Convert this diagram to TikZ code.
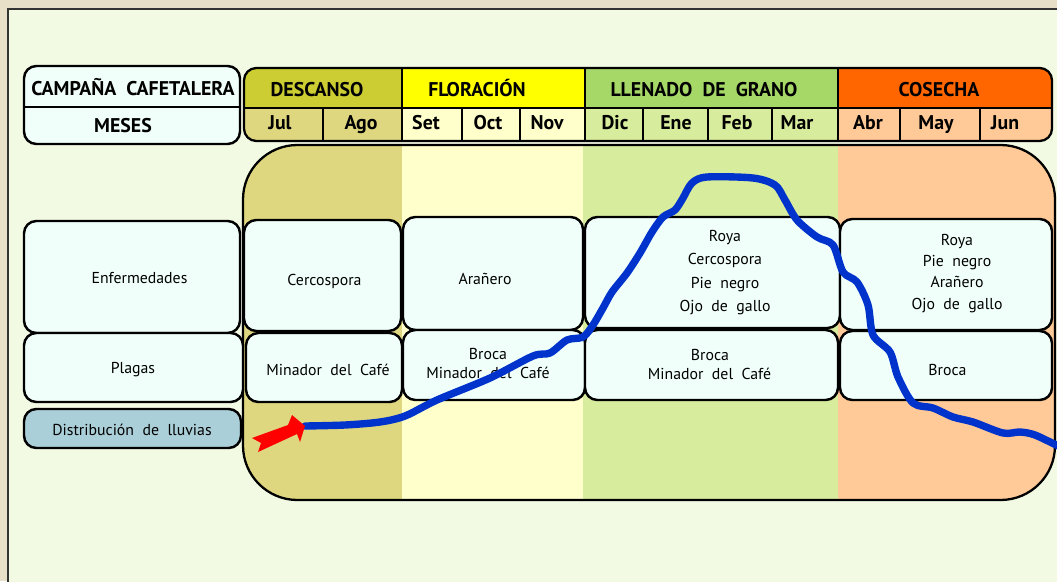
\documentclass[tikz,border=0pt]{standalone}
\usepackage{fontspec}
\setmainfont{PT Sans}
\definecolor{beige}{HTML}{E8DFC8}
\definecolor{panel}{HTML}{F3FAE4}
\definecolor{cellfill}{HTML}{F0FFFA}
\definecolor{rainlabel}{HTML}{AACFD8}
\definecolor{descdark}{HTML}{CCCC33}
\definecolor{desclight}{HTML}{DED77F}
\definecolor{flordark}{HTML}{FFFF00}
\definecolor{florlight}{HTML}{FFFFCC}
\definecolor{llendark}{HTML}{A5D866}
\definecolor{llenlight}{HTML}{D8EC9E}
\definecolor{cosedark}{HTML}{FF6600}
\definecolor{coselight}{HTML}{FFCA98}
\definecolor{rainblue}{HTML}{0033CC}
\newcommand\pix{0.02cm}

\begin{document}
\begin{tikzpicture}[x=0.02cm,y=-0.02cm]

\tikzset{cell/.style = {draw, line width=1.4pt, rounded corners=7pt, fill=cellfill, inner sep=0pt}}
\tikzset{txt/.style = {inner sep=0pt, anchor=base, font=\fontsize{9}{13}\selectfont}}
\tikzset{lines/.style = {inner sep=0pt, align=center, font=\fontsize{9}{13.3}\selectfont}}
\tikzset{head/.style = {inner sep=0pt, anchor=base, font=\bfseries\fontsize{11.3}{13}\selectfont}}
\tikzset{grid/.style = {line width=1.3pt}}
\tikzset{rain/.style = {line width=4.2pt, draw=rainblue, line join=round, line cap=round}}

\clip (0,0) rectangle (1057,581);
\fill[beige] (0,0) rectangle (1057,581);
\filldraw[fill=panel, draw=black!80, line width=1pt] (8,9) rectangle (1080,600);

%header
\node[cell, minimum width=216*\pix, minimum height=78*\pix] (campana) at (132,105) {};
\draw[grid] (24,107) -- (240,107);
\node[head] (tcampana) at (133,95) {CAMPAÑA\ \ CAFETALERA};
\node[head] (tmeses) at (123,132.5) {MESES};

\begin{scope}
\clip[rounded corners=7pt] (244,68) rectangle (1052,141);
\fill[descdark] (244,68) rectangle (402,108);
\fill[flordark] (402,68) rectangle (585,108);
\fill[llendark] (585,68) rectangle (838,108);
\fill[cosedark] (838,68) rectangle (1052,108);
\fill[desclight] (244,108) rectangle (402,141);
\fill[florlight] (402,108) rectangle (585,141);
\fill[llenlight] (585,108) rectangle (838,141);
\fill[coselight] (838,108) rectangle (1052,141);
\end{scope}
\draw[grid, rounded corners=7pt] (244,68) rectangle (1052,141);
\draw[grid] (244,108) -- (1052,108);
\foreach \x in {402,585,838} \draw[grid] (\x,68) -- (\x,108);
\foreach \x in {323,402,462,520,585,643,708,772,838,900,980} \draw[grid] (\x,108) -- (\x,141);

\node[head] (descanso) at (317,96.5) {DESCANSO};
\node[head] (floracion) at (477,96.5) {FLORACIÓN};
\node[head] (llenado) at (704,96.5) {LLENADO\ \ DE\ \ GRANO};
\node[head] (cosecha) at (939,96.5) {COSECHA};

\node[head] (jul) at (280,130) {Jul};
\node[head] (ago) at (361,130) {Ago};
\node[head] (set) at (426,130) {Set};
\node[head] (oct) at (488,130) {Oct};
\node[head] (nov) at (547,130) {Nov};
\node[head] (dic) at (615,130) {Dic};
\node[head] (ene) at (676,130) {Ene};
\node[head] (feb) at (737,130) {Feb};
\node[head] (mar) at (797,130) {Mar};
\node[head] (abr) at (868,130) {Abr};
\node[head] (may) at (936,130) {May};
\node[head] (jun) at (1005,130) {Jun};

%season band
\begin{scope}
\clip[rounded corners=31pt] (243,145) rectangle (1055,500);
\fill[desclight] (243,145) rectangle (402,500);
\fill[florlight] (402,145) rectangle (583,500);
\fill[llenlight] (583,145) rectangle (838,500);
\fill[coselight] (838,145) rectangle (1055,500);
\end{scope}
\draw[grid, rounded corners=31pt] (243,145) rectangle (1055,500);

%rows
\node[cell, minimum width=216*\pix, minimum height=112*\pix] (enf) at (132,277) {};
\node[cell, minimum width=219*\pix, minimum height=69*\pix] (pla) at (133.5,367.5) {};
\node[cell, fill=rainlabel, minimum width=217*\pix, minimum height=39*\pix] (lluvias) at (132.5,428.5) {};
\node[cell, minimum width=157*\pix, minimum height=111*\pix] (enfdesc) at (322.5,275.5) {};
\node[cell, minimum width=156*\pix, minimum height=69*\pix] (pladesc) at (324,367.5) {};
\node[cell, minimum width=180*\pix, minimum height=113*\pix] (enfflor) at (493,273.5) {};
\node[cell, minimum width=182*\pix, minimum height=70*\pix] (plaflor) at (494,365) {};
\node[cell, minimum width=255*\pix, minimum height=111*\pix] (enfllen) at (712.5,272.5) {};
\node[cell, minimum width=253*\pix, minimum height=70*\pix] (plallen) at (711.5,365) {};
\node[cell, minimum width=212*\pix, minimum height=111*\pix] (enfcose) at (946,274.5) {};
\node[cell, minimum width=212*\pix, minimum height=69*\pix] (placose) at (946,365.5) {};

%texts
\node[txt] (tenf) at (139.5,283) {Enfermedades};
\node[txt] (tpla) at (133,373) {Plagas};
\node[txt] (tlluvias) at (132,435) {Distribución\ \ de\ \ lluvias};
\node[txt] (tenfdesc) at (324.5,285) {Cercospora};
\node[txt] (tpladesc) at (328,375.5) {Minador\ \ del\ \ Café};
\node[txt] (tenfflor) at (485,284) {Arañero};
\node[txt] (tplaflor1) at (488,359) {Broca};
\node[txt] (tplaflor2) at (488,378) {Minador\ \ del\ \ Café};
\node[lines] (tenfllen) at (725,272.5) {Roya\\Cercospora\\Pie\ \ negro\\Ojo\ \ de\ \ gallo};
\node[txt] (tplallen1) at (710,360) {Broca};
\node[txt] (tplallen2) at (709.5,379) {Minador\ \ del\ \ Café};
\node[lines, font=\fontsize{9}{12}\selectfont] (tenfcose) at (957,273.5) {Roya\\Pie\ \ negro\\Arañero\\Ojo\ \ de\ \ gallo};
\node[txt] (tplacose) at (947.5,375) {Broca};

%rain
\coordinate (rainstart) at (305,426);
\draw[rain] plot[smooth, tension=0.5] coordinates {(rainstart) (345,425) (380,422) (405,416) (437,400) (490,378) (533,356) (550,353) (567,340) (583,337) (593,325) (603,308) (612,292) (627,273) (640,253) (652,232) (663,217) (675,210) (683,198) (692,183) (707,177) (753,178) (775,185) (785,200) (797,220) (817,237) (833,245) (843,272) (857,282) (868,305) (873,335) (890,352) (898,377) (913,403) (933,408) (953,417) (973,422) (1003,433) (1020,432) (1035,435) (1058,446)};
\fill[red] (252,438) -- (288,425) -- (292,415) -- (rainstart) -- (300,442) -- (297,434) -- (258,452) -- (261,443) -- cycle;

\end{tikzpicture}
\end{document}
